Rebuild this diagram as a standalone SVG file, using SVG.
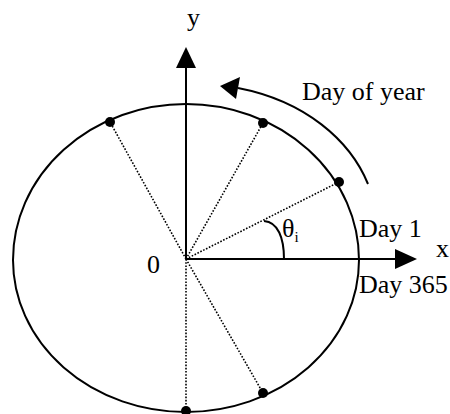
<svg xmlns="http://www.w3.org/2000/svg" width="450" height="414" viewBox="0 0 450 414">
<defs>
<style>
.t{font-family:"Liberation Serif","Times New Roman",serif;font-size:26px;fill:#000}
.ln{fill:none;stroke:#000;stroke-width:2}
.dot{fill:#000}
.dl{fill:none;stroke:#000;stroke-width:1.6;stroke-dasharray:1.6 1.6}
</style>
</defs>
<rect width="450" height="414" fill="#fff"/>
<g id="orbit">
<path class="ln" d="M13 260 A173 156 0 0 1 359 260 A173 152 0 0 1 13 260 Z"/>
</g>
<g id="connectors">
<line class="dl" x1="186" y1="259" x2="110" y2="122"/>
<line class="dl" x1="186" y1="259" x2="263" y2="123"/>
<line class="dl" x1="186" y1="259" x2="339" y2="182"/>
<line class="dl" x1="186" y1="259" x2="263" y2="393"/>
<line class="dl" x1="186" y1="259" x2="186" y2="411"/>
</g>
<g id="axes">
<line class="ln" x1="186" y1="259" x2="186" y2="66"/>
<polygon points="186,47 176,68 196,68"/>
<line class="ln" x1="186" y1="259" x2="397" y2="259"/>
<polygon points="417,259 395,249 395,269"/>
<path class="ln" d="M264 221 C278 222 284 238 284 259"/>
<path class="ln" d="M368 184 C350 140 305 101 238 88"/>
<polygon points="220,86 240,77 236,99"/>
</g>
<g id="dots">
<circle class="dot" cx="110" cy="122" r="5"/>
<circle class="dot" cx="263" cy="123" r="5"/>
<circle class="dot" cx="339" cy="182" r="5"/>
<circle class="dot" cx="263" cy="393" r="5"/>
<circle class="dot" cx="186" cy="411" r="5"/>
</g>
<g id="labels">
<text class="t" x="187" y="26">y</text>
<text class="t" x="436" y="257">x</text>
<text class="t" x="147" y="273">0</text>
<text class="t" x="302" y="100">Day of year</text>
<text class="t" x="359" y="237">Day 1</text>
<text class="t" x="359" y="293">Day 365</text>
<text class="t" x="282" y="237">θ<tspan font-size="15" dy="5">i</tspan></text>
</g>
</svg>
